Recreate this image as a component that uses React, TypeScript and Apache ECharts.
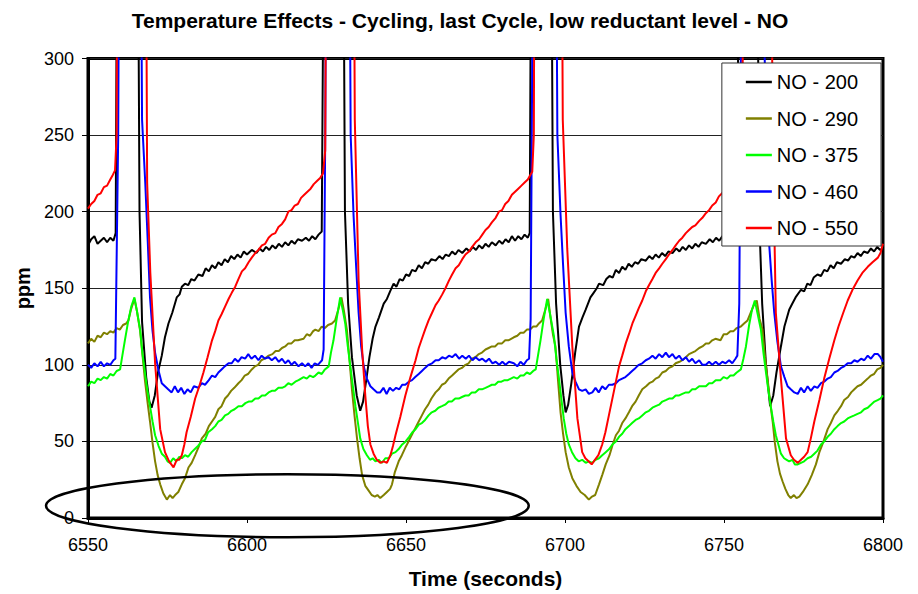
import React, { useEffect, useRef } from "react";
import * as echarts from "echarts";

const TITLE = "Temperature Effects - Cycling, last Cycle, low reductant level - NO";
const X_NAME = "Time (seconds)";
const Y_NAME = "ppm";
const X_MIN = 6550;
const X_MAX = 6800;
const X_STEP = 50;
const Y_MIN = 0;
const Y_MAX = 300;
const Y_STEP = 50;

const SERIES_NAMES = ["NO - 200", "NO - 290", "NO - 375", "NO - 460", "NO - 550"];
const SERIES_COLORS = ["#000000", "#808000", "#00ff00", "#0000ff", "#ff0000"];

// [time (s), NO (ppm)] — values above 300 run off the top of the chart
const NO200: number[][] = [
  [6550,178],[6551,182],[6552,184],[6553,179],[6554,181],[6555,183],[6556,180],[6557,183],[6558,181],[6558.7,186],[6559.6,600],
  [6565.2,600],[6566.2,200],[6567,128],[6568.3,92],[6569.3,76],[6570,72],[6571,80],[6572,95],[6573.2,106],[6574.2,118],[6575.3,127],
  [6576.5,134],[6577.9,144],[6578.8,146],[6579.5,151],[6580.5,153],[6581.5,152],[6582.5,156],[6583.5,155],[6584.7,159],[6586,158],
  [6587,163],[6588,161],[6589,165],[6590,163],[6591,167],[6592,165],[6593,169],[6594,167],[6595,171],[6596,169],[6597,172],[6598,170],
  [6599,174],[6600,172],[6601.5,175],[6603,173],[6604,176],[6605,174],[6606,177],[6607,175],[6608,178],[6609,176],[6610,179],[6611,177],
  [6612,180],[6613,178],[6614,181],[6615,179],[6616,182],[6617.3,181],[6618.5,183],[6619.5,181],[6620.5,184],[6621.5,182],[6622.5,185],
  [6623.5,187],[6624.8,600],[6629.8,600],[6630.8,200],[6631.8,140],[6633,105],[6634.5,80],[6635.6,70],[6636.5,76],[6637.5,90],
  [6638.5,105],[6639.5,117],[6640.4,125],[6641.5,131],[6643,140],[6644,143],[6645,148],[6646.1,153],[6647,151],[6648,156],[6649,155],
  [6650,159],[6651,158],[6651.9,162],[6653,161],[6654,165],[6655,163],[6656,167],[6657,166],[6658,169],[6659.3,168],[6660.5,171],
  [6661.5,169],[6662.5,172],[6663.5,171],[6664.5,174],[6665.5,172],[6666.5,175],[6667.7,173],[6669,176],[6670,174],[6671,177],[6672,175],
  [6673,178],[6674,176],[6675,179],[6676,177],[6677,180],[6678.2,178],[6679.3,181],[6680.3,179],[6681.3,182],[6682.3,180],[6683.3,184],
  [6684.3,181],[6685.3,184],[6686.3,182],[6687.3,185],[6688.3,183],[6688.9,186],[6689.8,600],[6695.2,600],[6696.2,200],[6697.2,140],
  [6698.5,100],[6699.5,80],[6700.2,69],[6701,74],[6702,88],[6703.2,108],[6704.4,125],[6705.5,131],[6706.5,136],[6708,144],[6709,147],
  [6710,150],[6710.7,153],[6712,152],[6713,156],[6714,158],[6715,157],[6716,162],[6717,160],[6718,164],[6719,162],[6720,166],[6721,164],
  [6722,167],[6723,166],[6724,169],[6725.4,168],[6726.5,171],[6727.5,169],[6728.5,172],[6729.5,170],[6730.5,173],[6731.5,171],[6732.5,174],
  [6733.8,173],[6735,176],[6736,174],[6737,177],[6738,175],[6739,178],[6740,176],[6741,179],[6742,177],[6743,180],[6744.3,179],
  [6745.5,182],[6746.5,180],[6747.5,183],[6748.5,181],[6749.5,184],[6750.5,182],[6751.5,184],[6752.5,182],[6753.5,185],[6754.2,187],
  [6755,600],[6760,600],[6761,200],[6762,140],[6763.2,100],[6764.5,73],[6765.5,80],[6766.5,95],[6767.9,112],[6769,125],[6770.5,136],
  [6771.5,140],[6772.5,144],[6774.2,149],[6775.2,148],[6776.2,153],[6777.2,152],[6778.2,157],[6779.4,159],[6780.5,158],[6781.5,162],
  [6782.5,161],[6783.5,165],[6784.5,163],[6785.5,167],[6786.8,166],[6788,169],[6789,168],[6790,171],[6791,170],[6792,173],[6793,171],
  [6794,174],[6795.2,173],[6796.2,176],[6797.2,174],[6798.2,177],[6799,175],[6800,176]
];

const NO290: number[][] = [
  [6550,114],[6551,117],[6552,115],[6553,119],[6554,118],[6555,121],[6556,120],[6557,122],[6558,121],[6559,124],[6560,123],[6561,126],
  [6562,127],[6562.7,129],[6563.5,136],[6564.6,143],[6565.4,135],[6566.4,122],[6567.2,105],[6567.9,90],[6568.7,76],[6569.5,63],
  [6570.3,49],[6571.1,37],[6571.9,28],[6572.7,22],[6573.7,16],[6574.8,12],[6575.8,15],[6576.6,13],[6577.4,15],[6578.4,17],[6579.5,22],
  [6580.5,26],[6581.6,33],[6582.6,36],[6583.7,41],[6584.7,46],[6585.8,52],[6587,55],[6588,60],[6589,63],[6590,66],[6591,71],[6592,73],
  [6593.1,78],[6594,80],[6595,83],[6596,85],[6597.3,88],[6598.3,90],[6599.3,93],[6600.3,94],[6601.5,97],[6602.5,99],[6603.5,100],
  [6604.5,103],[6605.5,104],[6606.8,106],[6608,107],[6609,109],[6610,109],[6611,111],[6612,112],[6613,114],[6614,114],[6615,116],
  [6616,116],[6617.8,117],[6618.8,120],[6619.8,119],[6620.8,122],[6621.5,123],[6622.5,122],[6623.5,125],[6624.5,124],[6625.5,126],
  [6626.7,127],[6627.7,129],[6628.7,136],[6629.7,144],[6630.5,135],[6631.4,123],[6632.2,104],[6633,84],[6633.8,67],[6634.6,52],
  [6635.4,39],[6636.2,28],[6637.2,21],[6638.2,18],[6639.2,15],[6640.2,14],[6641,15],[6641.9,13],[6643,15],[6644,17],[6645,19],
  [6645.6,22],[6646.5,30],[6647.7,37],[6648.7,41],[6649.8,46],[6650.8,50],[6652,55],[6653,59],[6654,63],[6655,67],[6656,71],[6657,74],
  [6658,78],[6659.3,82],[6660.3,84],[6661.3,87],[6662.3,88],[6663.4,91],[6664.5,93],[6665.5,95],[6666.5,97],[6667.6,98],[6668.7,100],
  [6669.7,101],[6670.7,104],[6671.8,105],[6672.9,107],[6673.9,108],[6675,110],[6676,111],[6677,112],[6678,112],[6679,114],[6680.2,114],
  [6681.2,116],[6682.2,116],[6683.9,118],[6685,119],[6686,121],[6687,121],[6688,123],[6689,123],[6690,125],[6691,125],[6691.8,127],
  [6692.8,129],[6693.8,136],[6694.7,143],[6695.5,130],[6696.2,120],[6697,112],[6697.8,90],[6698.6,69],[6699.4,55],[6700.2,43],
  [6701.2,33],[6702.3,26],[6703.6,21],[6704.9,17],[6706.2,15],[6707.5,12],[6708.5,14],[6709.5,15],[6710.7,22],[6711.7,28],[6712.8,35],
  [6714,41],[6715,48],[6716,54],[6717,57],[6718,62],[6719,65],[6720.1,69],[6721.1,73],[6722.2,76],[6723.2,80],[6724.3,84],[6725.5,86],
  [6726.5,88],[6727.5,89],[6728.5,91],[6729.5,92],[6730.6,95],[6731.7,96],[6732.7,98],[6733.8,99],[6734.8,101],[6736,102],[6736.9,103],
  [6738,105],[6739,107],[6740,108],[6741,109],[6742.2,111],[6743.2,112],[6744.3,114],[6745.3,114],[6746.3,116],[6747.3,117],[6748.9,116],
  [6749.9,120],[6750.9,120],[6752,122],[6753,122],[6754,124],[6755.3,125],[6756.3,127],[6757.4,129],[6758.4,134],[6759.4,139],
  [6760.3,142],[6761.2,130],[6762.1,123],[6762.9,105],[6763.7,91],[6764.5,76],[6765.3,63],[6766,49],[6766.8,37],[6767.6,29],[6768.4,24],
  [6769.3,19],[6770.2,15],[6771,13],[6772,15],[6772.8,13],[6773.7,14],[6774.8,17],[6776.3,22],[6777.6,28],[6778.9,35],[6780,43],
  [6781.3,50],[6782.6,58],[6783.6,62],[6784.7,67],[6785.8,70],[6786.8,73],[6787.8,77],[6789,79],[6790,82],[6791,84],[6792,86],
  [6793.1,87],[6794.1,89],[6795.2,91],[6796.2,93],[6797.2,94],[6798.2,97],[6799.2,98],[6800,100]
];

const NO375: number[][] = [
  [6550,86],[6551,89],[6552,88],[6553,91],[6554,90],[6555,92],[6556,91],[6557,94],[6558,93],[6559,96],[6560.1,97],[6560.8,106],
  [6561.6,116],[6562.6,128],[6563.6,138],[6564.6,144],[6565.4,135],[6566.4,123],[6567.1,108],[6567.9,95],[6568.7,83],[6569.5,73],
  [6570.3,63],[6571.1,54],[6572.2,47],[6573.2,42],[6574.2,40],[6575,37],[6575.8,36],[6576.8,39],[6577.8,37],[6578.7,40],[6579.5,39],
  [6580.5,41],[6581.5,40],[6582.6,43],[6583.6,45],[6584.6,47],[6585.8,50],[6586.8,51],[6587.8,56],[6589,58],[6590,60],[6591,63],
  [6592,64],[6593.1,67],[6594.1,68],[6595.1,70],[6596.1,71],[6597.3,73],[6598.4,73],[6599.5,75],[6600.5,76],[6601.5,76],[6602.6,78],
  [6603.6,78],[6604.7,80],[6605.7,80],[6606.8,82],[6607.8,83],[6608.8,83],[6609.9,85],[6611,85],[6612,86],[6613,88],[6614,87],
  [6615.2,89],[6616.2,90],[6617.8,92],[6618.8,91],[6619.8,93],[6620.8,92],[6621.5,93],[6622.5,95],[6623.5,94],[6624.5,97],[6625.7,99],
  [6626.4,108],[6627.2,116],[6628.2,130],[6629.3,144],[6630.1,136],[6630.9,127],[6631.7,112],[6632.5,99],[6633.3,86],[6634.1,73],
  [6634.9,62],[6635.6,52],[6636.6,45],[6637.7,41],[6638.7,38],[6639.5,39],[6640.4,37],[6641.4,38],[6642.4,36],[6643.5,39],[6644.6,39],
  [6645.6,42],[6646.7,43],[6647.7,45],[6648.8,48],[6649.9,50],[6651,53],[6652,56],[6653,58],[6654,61],[6655,62],[6656,64],[6657.1,67],
  [6658.1,69],[6659.2,70],[6660.2,72],[6661.3,73],[6662.3,74],[6663.4,76],[6664.4,76],[6665.5,78],[6666.6,78],[6667.6,79],[6668.7,80],
  [6669.7,80],[6670.7,82],[6671.8,82],[6672.9,84],[6673.9,84],[6675,85],[6676,86],[6677,87],[6678,87],[6679,89],[6680,89],[6681,90],
  [6682,90],[6683.9,92],[6685,91],[6686,93],[6687,93],[6688,95],[6689,94],[6690,96],[6690.8,97],[6691.5,106],[6692.3,116],[6693.3,130],
  [6694.4,143],[6695.4,132],[6696.5,119],[6697.3,104],[6698.1,91],[6698.9,77],[6699.6,65],[6700.4,55],[6701.2,48],[6702.2,43],
  [6703.3,39],[6704.3,37],[6705.4,38],[6706.5,36],[6707.5,37],[6708.6,36],[6709.6,38],[6710.7,39],[6711.7,41],[6712.8,43],[6713.9,45],
  [6714.9,48],[6716,50],[6717,53],[6718,55],[6719,58],[6720.1,60],[6721.1,62],[6722.2,64],[6723.2,65],[6724.3,67],[6725.4,69],
  [6726.4,70],[6727.5,72],[6728.5,73],[6729.6,74],[6730.6,76],[6731.7,77],[6732.7,78],[6733.8,78],[6734.8,80],[6735.9,80],[6736.9,81],
  [6738,82],[6739,82],[6740,84],[6741,84],[6742.2,86],[6743.2,86],[6744.3,86],[6745.3,88],[6746.3,88],[6747.4,90],[6748.9,90],
  [6749.9,92],[6751,91],[6752,93],[6753,93],[6754,95],[6755.3,97],[6756.1,104],[6756.9,112],[6757.9,126],[6758.8,136],[6759.7,142],
  [6760.6,133],[6761.6,123],[6762.4,108],[6763.2,95],[6763.9,84],[6764.7,73],[6765.5,63],[6766.3,54],[6767.1,48],[6767.9,42],
  [6768.9,39],[6769.7,38],[6770.5,37],[6771.5,38],[6772.3,35],[6773.2,35],[6774.2,36],[6775.2,37],[6776.3,39],[6777.4,40],[6778.4,42],
  [6779.4,44],[6780.5,48],[6781.5,50],[6782.6,53],[6783.6,55],[6784.7,58],[6785.7,60],[6786.8,62],[6787.8,63],[6788.9,65],[6789.9,66],
  [6791,67],[6792,68],[6793.1,69],[6794.1,71],[6795.2,72],[6796.2,74],[6797.3,76],[6798.3,77],[6799.2,78],[6800,80]
];

const NO460: number[][] = [
  [6550,100],[6551,98],[6552,101],[6553,99],[6554,102],[6555,99],[6556,101],[6557,100],[6558,103],[6558.6,104],[6559.5,250],[6560.2,600],
  [6566,600],[6567,260],[6568,219],[6568.8,180],[6569.5,144],[6570.3,122],[6571.1,108],[6572.1,97],[6573.2,88],[6574.2,86],[6575.2,84],
  [6576.3,82],[6577.3,86],[6578.3,82],[6579.3,85],[6580.3,81],[6581.3,84],[6582.3,82],[6583.3,86],[6584.7,85],[6585.8,88],[6586.8,87],
  [6588,90],[6589,93],[6590,92],[6591,95],[6592,97],[6593,99],[6594.2,101],[6595.2,101],[6596.2,104],[6597.2,102],[6598.3,105],
  [6599.4,104],[6600.4,107],[6601.4,104],[6602.5,106],[6603.6,103],[6604.6,106],[6605.7,104],[6606.8,105],[6607.8,103],[6608.9,105],
  [6610,102],[6611,104],[6612,101],[6613,103],[6614,100],[6615,102],[6616.2,99],[6617.3,101],[6618.3,99],[6619.3,101],[6620.3,98],
  [6621.3,101],[6622.3,100],[6623.6,103],[6624.1,110],[6624.6,250],[6625.3,600],[6631.7,600],[6632.6,250],[6633.5,198],[6634.3,165],
  [6635.1,134],[6635.9,112],[6636.7,99],[6637.7,91],[6638.8,86],[6639.8,84],[6640.9,82],[6641.9,82],[6642.9,85],[6643.9,81],[6644.9,85],
  [6645.9,83],[6646.9,85],[6647.9,84],[6648.8,87],[6649.8,87],[6650.9,89],[6651.9,90],[6652.9,92],[6654,94],[6655,96],[6656,98],
  [6657.1,100],[6658.2,101],[6659.3,103],[6660.3,103],[6661.4,105],[6662.4,104],[6663.5,106],[6664.5,105],[6665.6,107],[6666.7,104],
  [6667.7,106],[6668.8,104],[6669.8,106],[6670.9,103],[6671.9,105],[6673,103],[6674,104],[6675.1,102],[6676.1,104],[6677.2,101],
  [6678.2,102],[6679.3,100],[6680.3,102],[6681.3,100],[6682.4,102],[6683.9,101],[6685,99],[6686,102],[6687,100],[6688,103],[6688.7,104],
  [6689.2,130],[6689.7,300],[6690.3,600],[6696.7,600],[6697.6,250],[6698.6,198],[6699.4,165],[6700.2,134],[6701.2,112],[6702.3,95],
  [6703.3,89],[6704.4,84],[6705.4,83],[6706.5,84],[6707.5,81],[6708.6,82],[6709.6,85],[6710.6,82],[6711.7,86],[6712.7,84],[6713.8,87],
  [6714.9,87],[6716,88],[6717,90],[6718,91],[6719,92],[6720.1,94],[6721.1,96],[6722.2,98],[6723.2,100],[6724.3,101],[6725.4,103],
  [6726.4,104],[6727.5,106],[6728.5,104],[6729.6,107],[6730.6,105],[6731.7,108],[6732.7,105],[6733.8,107],[6734.8,104],[6735.9,106],
  [6736.9,103],[6738,105],[6739,102],[6740,104],[6741,101],[6742.2,103],[6743.2,100],[6744.3,100],[6745.3,102],[6746.3,100],[6747.4,102],
  [6748.4,100],[6749.5,102],[6750.5,101],[6751.6,103],[6752.6,101],[6753.6,104],[6754.2,106],[6754.8,140],[6755.3,300],[6756,600],
  [6762,600],[6762.8,300],[6763.6,220],[6764.2,179],[6765,155],[6765.8,134],[6766.8,115],[6767.9,99],[6769,92],[6770,86],[6771,84],
  [6772.1,82],[6773.2,81],[6774.2,85],[6775.2,82],[6776.3,86],[6777.3,83],[6778.4,86],[6779.4,85],[6780.5,88],[6781.5,89],[6782.6,91],
  [6783.6,92],[6784.7,95],[6785.7,96],[6786.8,98],[6787.8,99],[6788.9,101],[6790,101],[6791,103],[6792,102],[6793.1,104],[6794.1,103],
  [6795.2,106],[6796.2,104],[6797.3,107],[6798.4,107],[6799.2,105],[6800,102]
];

const NO550: number[][] = [
  [6550,202],[6551,205],[6552,207],[6553,211],[6554,212],[6555,216],[6556,217],[6557,221],[6557.8,224],[6558.5,227],[6559,250],
  [6559.5,600],[6567.8,600],[6568.6,219],[6569.6,160],[6571.1,101],[6572.7,58],[6574.2,43],[6575.5,37],[6576.9,33],[6577.9,38],
  [6578.7,38],[6579.5,41],[6580.3,48],[6581,56],[6582.3,66],[6583.7,78],[6585,86],[6586.3,95],[6587.6,105],[6589,116],[6590,122],
  [6591,129],[6592,133],[6593.1,138],[6594.2,143],[6595.2,147],[6596.3,151],[6597.3,156],[6598.4,161],[6599.4,163],[6600.5,167],
  [6601.5,170],[6602.6,173],[6603.6,175],[6604.7,178],[6605.7,179],[6606.8,183],[6607.8,185],[6608.9,186],[6609.9,190],[6611,192],
  [6612,195],[6613,200],[6614,201],[6615,204],[6616,205],[6617,209],[6618,211],[6619,213],[6620,215],[6621,218],[6622,220],[6623,222],
  [6623.9,225],[6624.6,240],[6625.3,600],[6633.1,600],[6633.9,260],[6635.1,155],[6636.2,110],[6637.2,80],[6638,60],[6638.8,48],
  [6639.8,42],[6640.8,38],[6641.9,36],[6643,37],[6644,36],[6645.1,41],[6645.9,47],[6646.7,54],[6648.2,66],[6649.8,80],[6651.4,92],
  [6653,103],[6654,111],[6655,117],[6656,123],[6657.1,129],[6658.2,134],[6659.3,139],[6660.3,142],[6661.4,146],[6662.4,150],[6663.5,155],
  [6664.5,159],[6665.6,163],[6666.6,165],[6667.7,169],[6668.7,172],[6669.8,174],[6670.8,177],[6671.9,180],[6673,182],[6674,185],
  [6675,188],[6676,190],[6677,193],[6678.2,196],[6679.2,200],[6680.2,201],[6681.2,205],[6682.2,207],[6683.3,211],[6684.3,213],
  [6685.3,215],[6686.3,217],[6687.3,219],[6688.3,221],[6689.1,224],[6689.7,226],[6690.2,250],[6690.7,600],[6698.5,600],[6699.3,260],
  [6700.7,176],[6702.3,112],[6703.9,65],[6705.4,43],[6706.4,39],[6707.4,37],[6708.4,35],[6709.4,38],[6710.5,41],[6711.7,48],[6712.7,56],
  [6713.8,67],[6715.4,83],[6717,99],[6718,106],[6719.1,114],[6720.1,120],[6721.2,127],[6722.2,132],[6723.2,137],[6724.3,142],[6725.4,148],
  [6726.4,152],[6727.5,156],[6728.5,160],[6729.6,163],[6730.6,166],[6731.7,169],[6732.7,172],[6733.8,175],[6734.8,178],[6735.9,181],
  [6736.9,183],[6738,186],[6739,188],[6740,190],[6741,191],[6742.2,194],[6743.2,196],[6744.3,199],[6745.3,201],[6746.3,204],[6747.4,206],
  [6748.4,210],[6749.4,212],[6750.4,215],[6751.4,217],[6752.4,220],[6753.4,222],[6754.4,224],[6755.3,227],[6755.8,240],[6756.3,600],
  [6764.3,600],[6765.3,250],[6766.3,134],[6767.9,91],[6769.5,52],[6771,41],[6772,38],[6773.2,36],[6774.2,38],[6775.2,40],[6776.3,43],
  [6777.3,52],[6778.4,63],[6780,77],[6781.5,91],[6783.1,104],[6784.7,116],[6786,125],[6787.5,134],[6788.9,142],[6790.4,149],[6792,155],
  [6793.5,160],[6795.2,164],[6796.7,167],[6798.4,170],[6799.2,173],[6800,179]
];

const SERIES_DATA = [NO200, NO290, NO375, NO460, NO550];

// Hand-drawn ellipse annotation, in data units: centre [time, ppm], half-width (s), half-height (ppm)
const ELLIPSE_CENTER = [6612.7, 8];
const ELLIPSE_RX = 75.9;
const ELLIPSE_RY = 20.6;

const FONT = '"Liberation Sans", Arial, Helvetica, sans-serif';

export default function App() {
  const ref = useRef<HTMLDivElement>(null);

  useEffect(() => {
    if (!ref.current) return;
    const chart = echarts.init(ref.current, undefined, { renderer: "svg" });
    const option: any = {
      animation: false,
      backgroundColor: "#ffffff",
      textStyle: { fontFamily: FONT },
      title: {
        text: TITLE,
        left: 455,
        top: 5,
        textAlign: "center",
        textStyle: { fontFamily: FONT, fontSize: 21, fontWeight: "bold", color: "#000" },
      },
      grid: {
        left: 88,
        right: 35,
        top: 58.5,
        bottom: 70,
        show: true,
        backgroundColor: "#ffffff",
        borderColor: "#000",
        borderWidth: 3,
      },
      legend: {
        orient: "vertical",
        right: 37,
        top: 63,
        data: SERIES_NAMES,
        icon: "rect",
        backgroundColor: "#ffffff",
        borderColor: "#333",
        borderWidth: 1,
        borderRadius: 0,
        padding: [8, 23, 7, 24],
        itemGap: 14.5,
        itemWidth: 26,
        itemHeight: 2.5,
        textStyle: { fontFamily: FONT, fontSize: 20, color: "#000", lineHeight: 22 },
      },
      xAxis: {
        type: "value",
        min: X_MIN,
        max: X_MAX,
        interval: X_STEP,
        name: X_NAME,
        nameLocation: "middle",
        nameGap: 50,
        nameTextStyle: { fontFamily: FONT, fontSize: 21, fontWeight: "bold", color: "#000" },
        axisLine: { show: true, onZero: false, lineStyle: { color: "#000", width: 3 } },
        axisTick: { show: true, inside: false, length: 5, lineStyle: { color: "#000", width: 1 } },
        axisLabel: {
          fontFamily: FONT,
          fontSize: 18,
          color: "#000",
          margin: 18,
          formatter: (v: number) => String(v),
        },
        splitLine: { show: false },
      },
      yAxis: {
        type: "value",
        min: Y_MIN,
        max: Y_MAX,
        interval: Y_STEP,
        name: Y_NAME,
        nameLocation: "middle",
        nameGap: 52,
        nameTextStyle: { fontFamily: FONT, fontSize: 20, fontWeight: "bold", color: "#000" },
        axisLine: { show: true, lineStyle: { color: "#000", width: 3 } },
        axisTick: { show: true, inside: false, length: 6, lineStyle: { color: "#000", width: 1 } },
        axisLabel: {
          fontFamily: FONT,
          fontSize: 18,
          color: "#000",
          margin: 14,
          formatter: (v: number) => String(v),
        },
        splitLine: { show: true, lineStyle: { color: "#222", width: 1 } },
      },
      series: SERIES_NAMES.map((name, i) => ({
        name,
        type: "line",
        data: SERIES_DATA[i],
        showSymbol: false,
        symbol: "none",
        clip: true,
        color: SERIES_COLORS[i],
        itemStyle: { color: SERIES_COLORS[i] },
        lineStyle: { color: SERIES_COLORS[i], width: 2 },
        z: 2 + i * 0.01,
      })),
    };
    chart.setOption(option);

    const c = chart.convertToPixel({ gridIndex: 0 }, ELLIPSE_CENTER) as number[];
    const e = chart.convertToPixel({ gridIndex: 0 }, [
      ELLIPSE_CENTER[0] + ELLIPSE_RX,
      ELLIPSE_CENTER[1] + ELLIPSE_RY,
    ]) as number[];
    chart.setOption({
      graphic: [
        {
          type: "ellipse",
          z: 100,
          silent: true,
          shape: { cx: c[0], cy: c[1], rx: Math.abs(e[0] - c[0]), ry: Math.abs(c[1] - e[1]) },
          style: { fill: "none", stroke: "#000", lineWidth: 2.5 },
        },
      ],
    });

    return () => chart.dispose();
  }, []);

  return (
    <div
      ref={ref}
      style={{ position: "fixed", left: 0, top: 0, width: 918, height: 594, background: "#fff" }}
    />
  );
}
